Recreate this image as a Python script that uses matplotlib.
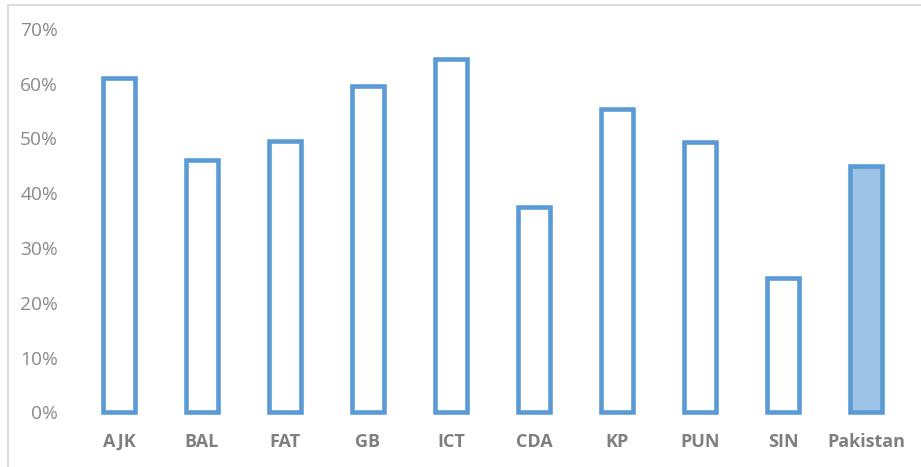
import matplotlib.pyplot as plt
from matplotlib.patches import Rectangle
from matplotlib.ticker import PercentFormatter

# share of each region
regions = ["AJK", "BAL", "FAT", "GB", "ICT", "CDA", "KP", "PUN", "SIN", "Pakistan"]
shares = [0.61, 0.46, 0.495, 0.595, 0.645, 0.375, 0.553, 0.494, 0.246, 0.45]

edge_blue = "#5B9BD5"
fills = ["white"] * (len(regions) - 1) + ["#9DC3E6"]

plt.rcParams["font.family"] = ["Open Sans", "DejaVu Sans"]

fig = plt.figure(figsize=(9.21, 4.67), dpi=100)
ax = fig.add_axes([0.0841, 0.117, 0.9012, 0.8215])

x = range(len(regions))
bars = ax.bar(x, shares, width=0.38, color=fills, edgecolor=edge_blue, linewidth=3.3)
for b in bars:
    b.set_clip_on(False)

ax.set_xlim(-0.5, len(regions) - 0.5)
ax.set_ylim(0, 0.7)
ax.set_yticks([i / 10 for i in range(8)])
ax.yaxis.set_major_formatter(PercentFormatter(1.0, decimals=0))
ax.set_xticks(list(x))
ax.set_xticklabels(regions, fontweight="bold")

ax.tick_params(axis="y", length=0, pad=14, labelsize=13.8, labelcolor="#8A8A8A")
ax.tick_params(axis="x", length=0, pad=15, labelsize=13, labelcolor="#7F7F7F")
for s in ax.spines.values():
    s.set_visible(False)

# chart frame (runs off the right and bottom edges)
fig.patches.append(Rectangle((7.5 / 921, -0.1), 1.2, 1.1 - 4.5 / 467,
                             transform=fig.transFigure, fill=False,
                             edgecolor="#D9D9D9", linewidth=1.3))

fig.savefig("out.png", dpi=100)
